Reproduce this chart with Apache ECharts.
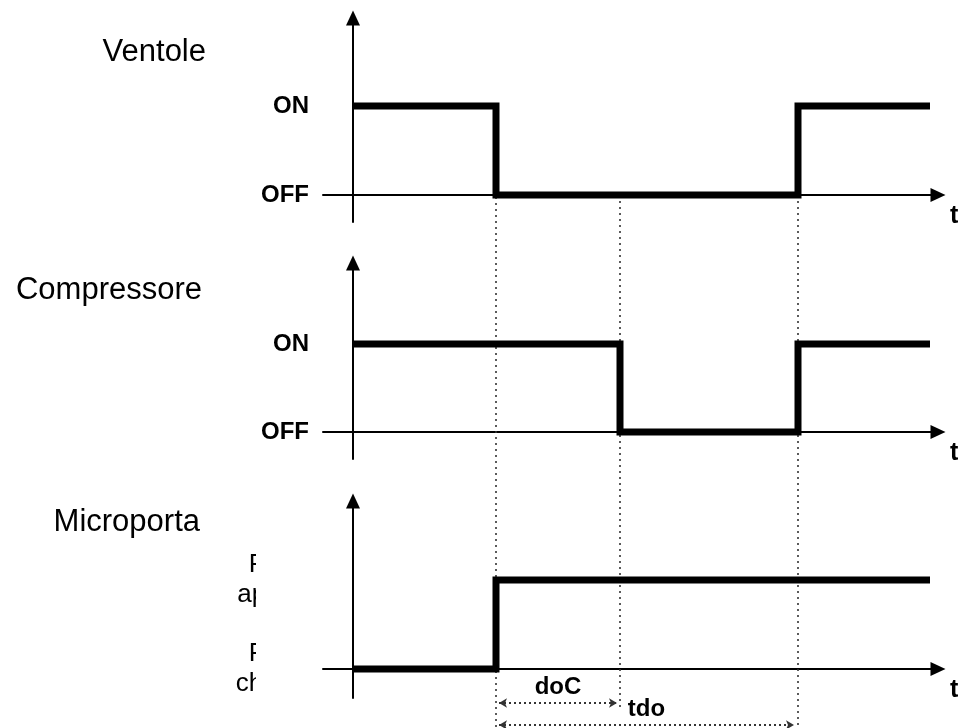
<!DOCTYPE html>
<html>
<head>
<meta charset="utf-8">
<script src="https://cdn.jsdelivr.net/npm/echarts@6/dist/echarts.min.js"></script>
<style>
html,body{margin:0;padding:0;background:#fff;}
#chart{width:958px;height:728px;}
</style>
</head>
<body>
<div id="chart"></div>
<script>
// ---- data (time in arbitrary units, levels 0/1) ----
const panelNames = ['Ventole', 'Compressore', 'Microporta'];
const levelLabels = ['OFF', 'ON'];
const doorLabels = ['Porta\nchiusa', 'Porta\naperta'];
const intervalNames = ['doC', 'tdo'];
// event times
const tFanOff = 14.3;    // fans stop / door opens
const tCompOff = 26.7;   // compressor stops (doC elapsed)
const tRestart = 44.5;   // tdo elapsed, fans & compressor restart
const tEnd = 57.7;
// step series (step: 'end')
const ventoleData = [[0, 1], [tFanOff, 0], [tRestart, 1], [tEnd, 1]];
const compressoreData = [[0, 1], [tCompOff, 0], [tRestart, 1], [tEnd, 1]];
const microportaData = [[0, 0], [tFanOff, 1], [tEnd, 1]];

// ---- layout ----
const FONT = '"Liberation Sans", Arial, sans-serif';
const xMin = -3, xMax = 58.5;
const gridLeft = 323, gridRight = 20;
// pixel layout per panel: axis top, axis bottom, baseline (0), level 1
const panels = [
  {top: 18, bottom: 222, y0: 195, y1: 106, labels: levelLabels, door: false},
  {top: 263, bottom: 459, y0: 432, y1: 344, labels: levelLabels, door: false},
  {top: 501, bottom: 698, y0: 669, y1: 580, labels: doorLabels, door: true}
];
const seriesData = [ventoleData, compressoreData, microportaData];

const grids = [], xAxes = [], yAxes = [], series = [];
panels.forEach((p, i) => {
  const u = p.y0 - p.y1;
  grids.push({left: gridLeft, right: gridRight, top: p.top, height: p.bottom - p.top, outerBoundsMode: 'none', containLabel: false});
  xAxes.push({
    gridIndex: i, type: 'value', min: xMin, max: xMax,
    name: 't', nameLocation: 'end', nameGap: 12,
    nameTextStyle: {fontFamily: FONT, fontSize: 25, fontWeight: 'bold', color: '#000', align: 'left', verticalAlign: 'top', padding: [9, 0, 0, 0]},
    axisLine: {show: true, onZero: true, symbol: ['none', 'triangle'], symbolSize: [14, 15], lineStyle: {color: '#000', width: 2}},
    axisTick: {show: false}, axisLabel: {show: false}, splitLine: {show: false}
  });
  yAxes.push({
    gridIndex: i, type: 'value',
    min: -(p.bottom - p.y0) / u, max: (p.y0 - p.top) / u,
    axisLine: {show: true, onZero: true, symbol: ['none', 'triangle'], symbolSize: [14, 15], lineStyle: {color: '#000', width: 2}},
    axisTick: {show: false}, splitLine: {show: false},
    axisLabel: p.door ? {
      customValues: [0, 1], formatter: v => p.labels[Math.round(v)], margin: 12,
      fontFamily: FONT, fontSize: 26, lineHeight: 30, color: '#000', align: 'right'
    } : {
      customValues: [0, 1], formatter: v => p.labels[Math.round(v)], margin: 14,
      fontFamily: FONT, fontSize: 24, fontWeight: 'bold', color: '#000'
    }
  });
  series.push({
    type: 'line', xAxisIndex: i, yAxisIndex: i, step: 'end', data: seriesData[i],
    symbol: 'none', z: 5, silent: true,
    lineStyle: {color: '#000', width: 7, cap: 'butt', join: 'miter'}
  });
});

// overlay grid for guide lines & interval arrows (y in pixels)
grids.push({left: gridLeft, right: gridRight, top: 0, height: 728, outerBoundsMode: 'none', containLabel: false});
xAxes.push({gridIndex: 3, type: 'value', min: xMin, max: xMax, show: false});
yAxes.push({gridIndex: 3, type: 'value', min: 0, max: 728, inverse: true, show: false});

const dotted = {color: '#333', width: 1.6, type: [2, 4]};
const guide = (t, yA, yB) => [
  {coord: [t, yA], symbol: 'none', lineStyle: dotted, label: {show: false}},
  {coord: [t, yB], symbol: 'none'}
];
const arrowLabel = (name) => ({
  show: true, position: 'middle', formatter: name, distance: 4,
  fontFamily: FONT, fontSize: 24, fontWeight: 'bold', color: '#000'
});
const span = (tA, tB, y, name) => [
  {coord: [tA, y], symbol: 'arrow', symbolSize: [7, 8], lineStyle: {color: '#333', width: 2, type: [2, 3]}, label: arrowLabel(name)},
  {coord: [tB, y], symbol: 'arrow', symbolSize: [7, 8]}
];
series.push({
  type: 'line', xAxisIndex: 3, yAxisIndex: 3, data: [], z: 1, silent: true,
  markLine: {
    silent: true, animation: false, symbol: ['none', 'none'],
    data: [
      guide(tFanOff, 197, 728),
      guide(tCompOff, 195, 708),
      guide(tRestart, 195, 728),
      span(tFanOff + 0.3, tCompOff - 0.3, 703, intervalNames[0]),
      span(tFanOff + 0.3, tRestart - 0.4, 725, intervalNames[1])
    ]
  }
});

const titleY = [52, 290, 522];
const titleX = [206, 202, 200];
const graphics = panelNames.map((n, i) => ({
  type: 'text', x: titleX[i], y: titleY[i], z: 10,
  style: {text: n, fontFamily: FONT, fontSize: 31, fill: '#000', align: 'right', verticalAlign: 'middle'}
}));
// crop edge covering the door labels (as in the reference)
graphics.push({type: 'rect', x: 256, y: 535, z: 100, shape: {width: 64, height: 170}, style: {fill: '#fff'}});

const chart = echarts.init(document.getElementById('chart'), null, {renderer: 'canvas'});
chart.setOption({
  backgroundColor: '#fff',
  animation: false,
  grid: grids, xAxis: xAxes, yAxis: yAxes, series: series,
  graphic: graphics
});
</script>
</body>
</html>
